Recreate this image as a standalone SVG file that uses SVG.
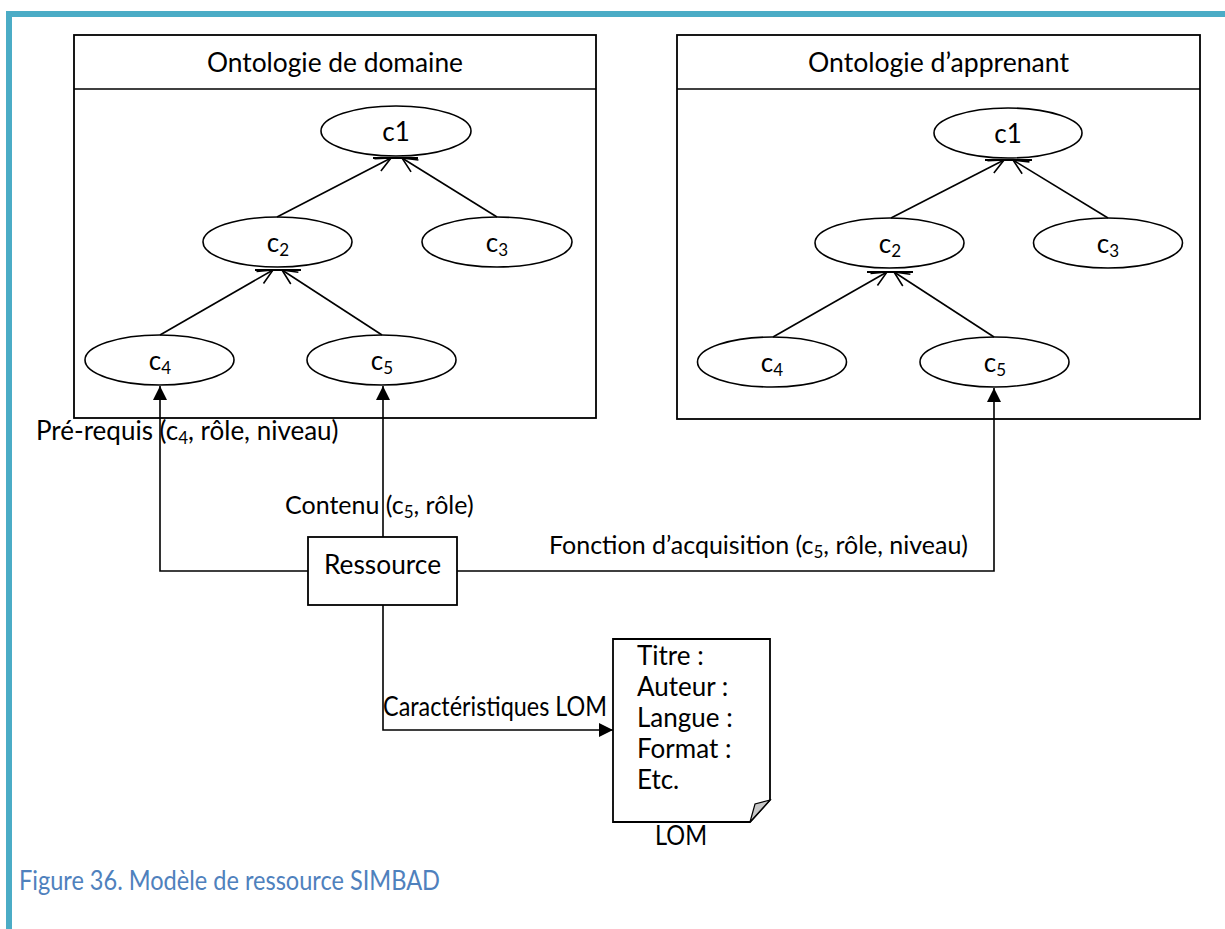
<svg xmlns="http://www.w3.org/2000/svg" width="1225" height="929" viewBox="0 0 1225 929">
<defs>
<style>
text{font-family:"Lato","Liberation Sans",sans-serif;fill:#000;font-size:26px}
.box{fill:#fff;stroke:#000;stroke-width:1.8}
.ell{fill:#fff;stroke:#000;stroke-width:1.6}
.ln{fill:none;stroke:#000;stroke-width:1.6}
.tick{stroke:#000;stroke-width:1.8}
.mid{text-anchor:middle}
.cap{fill:#4F81BD}
.sub{font-size:17px}
.lbl{font-size:25px}
</style>
<marker id="open" markerUnits="userSpaceOnUse" markerWidth="20" markerHeight="16" refX="17" refY="8" orient="auto" viewBox="0 0 20 16">
<path d="M2,1 L17,8 L2,15" fill="none" stroke="#000" stroke-width="1.6"/>
</marker>
<marker id="solid" markerUnits="userSpaceOnUse" markerWidth="14" markerHeight="14" refX="14" refY="7" orient="auto" viewBox="0 0 14 14">
<path d="M0,0 L14,7 L0,14 Z" fill="#000"/>
</marker>
</defs>
<rect width="1225" height="929" fill="#fff"/>
<g id="frame" fill="#4BACC6">
<rect x="6" y="11" width="1219" height="6"/>
<rect x="6" y="11" width="6" height="918"/>
</g>

<g id="ontologie-domaine">
<rect class="box" x="74" y="35" width="522" height="383"/>
<line class="ln" x1="74" y1="89" x2="596" y2="89" stroke-width="1.8"/>
<text class="mid" x="335" y="72" textLength="256" lengthAdjust="spacingAndGlyphs">Ontologie de domaine</text>
</g>
<g id="ontologie-apprenant">
<rect class="box" x="677" y="35" width="523" height="384"/>
<line class="ln" x1="677" y1="89" x2="1200" y2="89" stroke-width="1.8"/>
<text class="mid" x="938.5" y="72" textLength="261" lengthAdjust="spacingAndGlyphs">Ontologie d’apprenant</text>
</g>

<g id="d-c1"><ellipse class="ell" cx="396" cy="131" rx="75" ry="25"/><text class="mid" x="396" y="141">c1</text></g>
<g id="d-c2"><ellipse class="ell" cx="277.5" cy="242" rx="74.5" ry="25"/><text class="mid" x="278" y="252">c<tspan class="sub" dy="4">2</tspan></text></g>
<g id="d-c3"><ellipse class="ell" cx="497" cy="242" rx="75" ry="25"/><text class="mid" x="497" y="252">c<tspan class="sub" dy="4">3</tspan></text></g>
<g id="d-c4"><ellipse class="ell" cx="159.5" cy="360" rx="74.5" ry="25"/><text class="mid" x="160" y="370">c<tspan class="sub" dy="4">4</tspan></text></g>
<g id="d-c5"><ellipse class="ell" cx="381.5" cy="360" rx="74.5" ry="25"/><text class="mid" x="382" y="370">c<tspan class="sub" dy="4">5</tspan></text></g>

<g id="a-c1"><ellipse class="ell" cx="1008" cy="133" rx="74" ry="25"/><text class="mid" x="1008" y="143">c1</text></g>
<g id="a-c2"><ellipse class="ell" cx="889.5" cy="243" rx="74.5" ry="25"/><text class="mid" x="890" y="253">c<tspan class="sub" dy="4">2</tspan></text></g>
<g id="a-c3"><ellipse class="ell" cx="1108" cy="243" rx="74.5" ry="25"/><text class="mid" x="1108" y="253">c<tspan class="sub" dy="4">3</tspan></text></g>
<g id="a-c4"><ellipse class="ell" cx="772" cy="362" rx="74.5" ry="25"/><text class="mid" x="772" y="372">c<tspan class="sub" dy="4">4</tspan></text></g>
<g id="a-c5"><ellipse class="ell" cx="994.5" cy="362" rx="74.5" ry="25"/><text class="mid" x="995" y="372">c<tspan class="sub" dy="4">5</tspan></text></g>

<g id="ressource">
<rect class="box" x="308" y="537" width="149" height="68"/>
<text class="mid" x="382.5" y="574" textLength="117" lengthAdjust="spacingAndGlyphs">Ressource</text>
</g>

<g id="lom">
<path class="box" d="M613,639 H770 V800 L750,822 H613 Z"/>
<path d="M750,822 L755,804 L770,800 Z" fill="#c8c8c8" stroke="#000" stroke-width="1.2"/>
<text x="637" y="665" font-size="25">Titre :</text>
<text x="637" y="696" font-size="25">Auteur :</text>
<text x="637" y="727" font-size="25">Langue :</text>
<text x="637" y="758" font-size="25">Format :</text>
<text x="637" y="789" font-size="25">Etc.</text>
<text x="655" y="845" textLength="52" lengthAdjust="spacingAndGlyphs">LOM</text>
</g>

<g id="connectors">
<line class="ln" x1="277" y1="217" x2="391" y2="158" marker-end="url(#open)"/>
<line class="ln" x1="497" y1="217" x2="402" y2="158" marker-end="url(#open)"/>
<line class="ln" x1="160" y1="335" x2="273" y2="270" marker-end="url(#open)"/>
<line class="ln" x1="382" y1="335" x2="282" y2="270" marker-end="url(#open)"/>
<line class="tick" x1="373" y1="158" x2="418" y2="158"/>
<line class="tick" x1="255" y1="270" x2="301" y2="270"/>

<line class="ln" x1="891" y1="218" x2="1004" y2="160" marker-end="url(#open)"/>
<line class="ln" x1="1108" y1="218" x2="1013" y2="160" marker-end="url(#open)"/>
<line class="ln" x1="773" y1="337" x2="887" y2="272" marker-end="url(#open)"/>
<line class="ln" x1="994" y1="337" x2="894" y2="272" marker-end="url(#open)"/>
<line class="tick" x1="985" y1="160" x2="1032" y2="160"/>
<line class="tick" x1="867" y1="272" x2="913" y2="272"/>

<path class="ln" d="M308,571 H160 V386" marker-end="url(#solid)"/>
<path class="ln" d="M383,537 V386" marker-end="url(#solid)"/>
<path class="ln" d="M457,571 H994 V388" marker-end="url(#solid)"/>
<path class="ln" d="M383,605 V730 H613" marker-end="url(#solid)"/>

<text x="36" y="440">Pré-requis (c<tspan class="sub" dy="4">4</tspan><tspan dy="-4">, rôle, niveau)</tspan></text>
<text class="lbl" x="285" y="514">Contenu (c<tspan class="sub" dy="4">5</tspan><tspan dy="-4">, rôle)</tspan></text>
<text class="lbl" x="549" y="554">Fonction d’acquisition (c<tspan class="sub" dy="4">5</tspan><tspan dy="-4">, rôle, niveau)</tspan></text>
<text x="383" y="716" textLength="224" lengthAdjust="spacingAndGlyphs">Caractéristiques LOM</text>
</g>

<text class="cap" x="19" y="890" textLength="421" lengthAdjust="spacingAndGlyphs">Figure 36. Modèle de ressource SIMBAD</text>
</svg>
